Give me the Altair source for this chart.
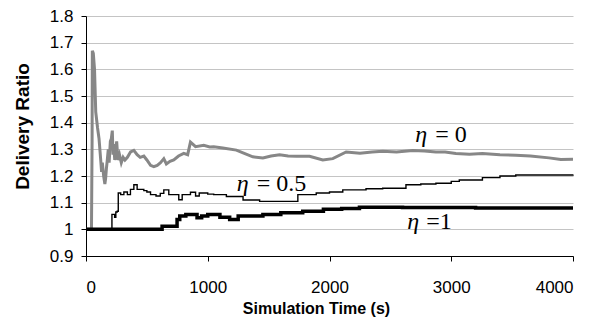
import altair as alt
import pandas as pd

# eta = 0 (gray)
eta0_t = [0, 45, 50, 52, 60, 70, 80, 95, 107, 120, 128, 134, 145, 155, 161, 168, 175, 183, 190, 200,
          208, 216, 222, 228, 236, 245, 252, 262, 275, 290, 305, 320, 340, 366, 393, 420, 445, 475, 500, 530,
          557, 585, 612, 639, 660, 690, 721, 760, 803, 835, 858, 900, 967, 1016, 1049, 1124, 1235, 1300, 1370, 1453,
          1520, 1590, 1660, 1727, 1836, 1945, 2027, 2137, 2250, 2350, 2437, 2550, 2683, 2780, 2874, 2950, 3038, 3150, 3256, 3400,
          3530, 3650, 3803, 3900, 4000]
eta0_v = [1.0, 1.0, 1.33, 1.67, 1.66, 1.60, 1.44, 1.38, 1.34, 1.265, 1.215, 1.25, 1.20, 1.17, 1.19, 1.23, 1.26, 1.30, 1.25, 1.33,
          1.34, 1.37, 1.28, 1.32, 1.26, 1.30, 1.33, 1.26, 1.28, 1.25, 1.27, 1.26, 1.27, 1.29, 1.296, 1.28, 1.27, 1.275, 1.26, 1.24,
          1.235, 1.24, 1.25, 1.265, 1.245, 1.255, 1.26, 1.275, 1.285, 1.28, 1.327, 1.31, 1.315, 1.309, 1.31, 1.305, 1.297, 1.285, 1.272, 1.268,
          1.275, 1.28, 1.275, 1.274, 1.274, 1.26, 1.265, 1.29, 1.285, 1.29, 1.293, 1.29, 1.296, 1.294, 1.29, 1.29, 1.284, 1.282, 1.284, 1.28,
          1.278, 1.275, 1.268, 1.262, 1.263]

# eta = 0.5 (thin black)
eta05_t = [0, 213, 235, 245, 256, 265, 285, 311, 340, 365, 393, 420, 475, 500, 530, 575, 610, 639, 680, 720,
           762, 790, 858, 900, 930, 1000, 1049, 1153, 1290, 1426, 1563, 1740, 1891, 2000, 2109, 2300, 2437, 2628, 2750, 2874,
           3000, 3066, 3256, 3400, 3530, 4000]
eta05_v = [1.0, 1.056, 1.045, 1.065, 1.068, 1.136, 1.13, 1.14, 1.13, 1.15, 1.167, 1.15, 1.145, 1.14, 1.13, 1.125, 1.135, 1.148, 1.13, 1.13,
           1.111, 1.13, 1.139, 1.125, 1.136, 1.132, 1.13, 1.123, 1.11, 1.105, 1.105, 1.13, 1.136, 1.14, 1.148, 1.152, 1.154, 1.167, 1.17, 1.173,
           1.18, 1.185, 1.194, 1.2, 1.204, 1.206]

# eta = 1 (thick black)
eta1_t = [0, 625, 748, 770, 820, 912, 950, 1000, 1100, 1180, 1250, 1453, 1600, 1780, 1950, 2100, 2246, 2600, 3200, 4000]
eta1_v = [1.0, 1.012, 1.037, 1.05, 1.056, 1.043, 1.05, 1.056, 1.045, 1.037, 1.05, 1.056, 1.062, 1.068, 1.075, 1.078, 1.083, 1.082, 1.08, 1.08]

# annotation labels
sym_t = [2705, 1238, 2639]
sym_v = [1.327, 1.142, 1.0]
rest_t = [2869, 1402, 2795]
rest_v = [1.327, 1.142, 1.0]
rest_txt = ["= 0", "= 0.5", "=1"]

x_ticks = [0, 1000, 2000, 3000, 4000]
y_ticks = [0.9, 1.0, 1.1, 1.2, 1.3, 1.4, 1.5, 1.6, 1.7, 1.8]

SANS = "Liberation Sans"
SERIF = "Liberation Serif"


def xenc():
    return alt.X("t:Q", scale=alt.Scale(domain=[0, 4000], nice=False),
                 axis=alt.Axis(values=x_ticks, format="d", grid=False, title="Simulation Time (s)",
                               labelFont=SANS, labelFontSize=17, labelColor="black",
                               labelBaseline="alphabetic", labelPadding=31,
                               titleFont=SANS, titleFontSize=16, titleFontWeight="bold",
                               titleColor="black", titleBaseline="alphabetic", titleY=57, titleX=230,
                               domainColor="black", tickColor="black", tickSize=5))


def yenc():
    return alt.Y("v:Q", scale=alt.Scale(domain=[0.9, 1.8], nice=False, zero=False),
                 axis=alt.Axis(values=y_ticks, format=".1~f", grid=True, gridColor="#c4c4c4",
                               title="Delivery Ratio",
                               labelFont=SANS, labelFontSize=17, labelColor="black", labelPadding=8,
                               titleFont=SANS, titleFontSize=19, titleFontWeight="bold",
                               titleColor="black", titleX=-54, titleY=110,
                               domainColor="black", tickColor="black", tickSize=5))


d0 = pd.DataFrame({"t": eta0_t, "v": eta0_v})
d05 = pd.DataFrame({"t": eta05_t, "v": eta05_v})
d1 = pd.DataFrame({"t": eta1_t, "v": eta1_v})
dsym = pd.DataFrame({"t": sym_t, "v": sym_v, "s": ["η"] * 3})
drest = pd.DataFrame({"t": rest_t, "v": rest_v, "s": rest_txt})

l0 = alt.Chart(d0).mark_line(color="#878787", strokeWidth=3).encode(x=xenc(), y=yenc(), order="t:Q")
l05 = alt.Chart(d05).mark_line(color="black", strokeWidth=1.4, interpolate="step-after").encode(x=xenc(), y=yenc())
l1 = alt.Chart(d1).mark_line(color="black", strokeWidth=3.5, interpolate="step-after").encode(x=xenc(), y=yenc())
tsym = alt.Chart(dsym).mark_text(font=SERIF, fontStyle="italic", fontSize=24, align="left",
                                 baseline="alphabetic", color="black").encode(x=xenc(), y=yenc(), text="s:N")
trest = alt.Chart(drest).mark_text(font=SERIF, fontSize=24, align="left",
                                   baseline="alphabetic", color="black").encode(x=xenc(), y=yenc(), text="s:N")

chart = alt.layer(l0, l05, l1, tsym, trest).properties(
    width=487, height=240,
    autosize=alt.AutoSizeParams(type="none"),
    padding={"left": 78, "top": 8, "right": 25, "bottom": 68},
    background="white",
).configure_view(stroke=None)

chart.save("out.html", embed_options={"renderer": "svg", "actions": False})
